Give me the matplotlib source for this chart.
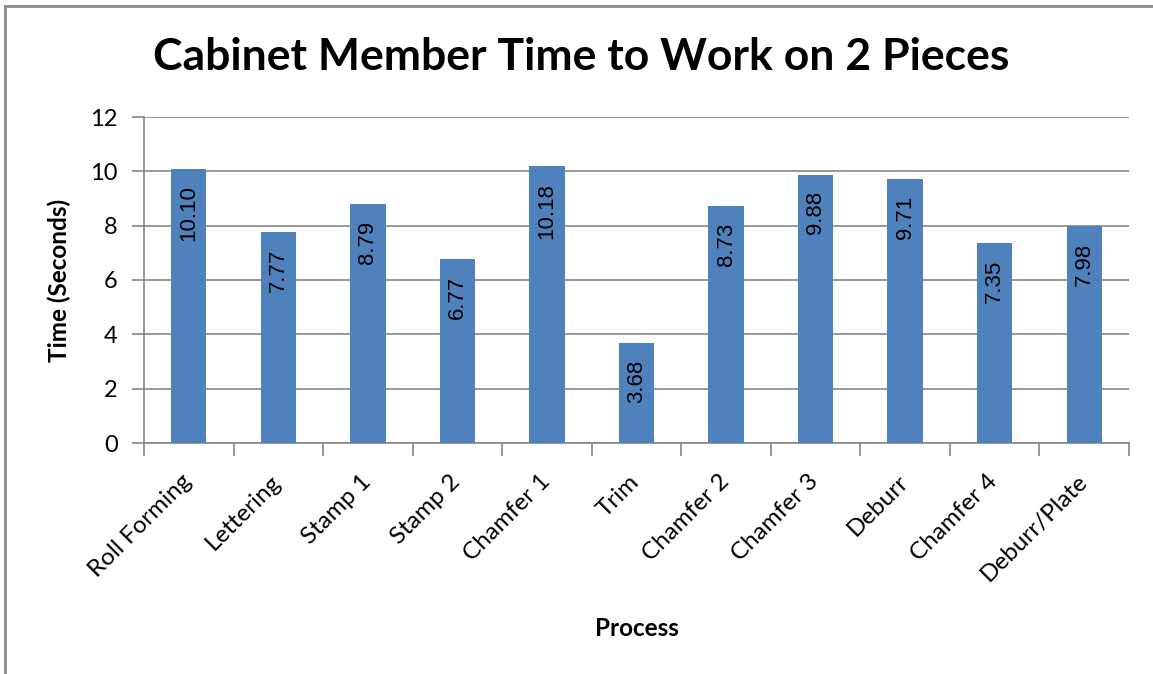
import matplotlib
matplotlib.use("Agg")
import matplotlib.pyplot as plt
from matplotlib.transforms import ScaledTranslation

categories = ["Roll Forming", "Lettering", "Stamp 1", "Stamp 2", "Chamfer 1", "Trim",
              "Chamfer 2", "Chamfer 3", "Deburr", "Chamfer 4", "Deburr/Plate"]
times = [10.10, 7.77, 8.79, 6.77, 10.18, 3.68, 8.73, 9.88, 9.71, 7.35, 7.98]
yticks = [0, 2, 4, 6, 8, 10, 12]

plt.rcParams['font.family'] = ['Lato', 'DejaVu Sans']

fig = plt.figure(figsize=(11.53, 6.74), dpi=100)
ax = fig.add_axes([144/1153, 1-443/674, (1129-144)/1153, (443-117)/674])

grid_c = '#868686'
x = list(range(len(categories)))
ax.bar(x, times, width=0.395, color='#4F81BD', zorder=3)
for xi, v in zip(x, times):
    ax.annotate(f"{v:.2f}", (xi, v), xytext=(0, -12), textcoords='offset points',
                rotation=90, ha='center', va='top', fontsize=16,
                family=['Liberation Sans', 'DejaVu Sans'], color='black', zorder=4)

ax.set_xlim(-0.5, len(categories) - 0.5)
ax.set_ylim(0, 12)
ax.set_yticks(yticks)
ax.set_yticklabels([str(t) for t in yticks], fontsize=17)
ax.yaxis.grid(True, color=grid_c, linewidth=1.2, zorder=0)
ax.set_axisbelow(True)

ax.set_xticks(x)
ax.set_xticklabels(categories, rotation=45, ha='right', rotation_mode='anchor', fontsize=17.5)
ax.tick_params(axis='x', length=0, pad=20)
shift = ScaledTranslation(-8/100, 0, fig.dpi_scale_trans)
for lbl in ax.get_xticklabels():
    lbl.set_transform(lbl.get_transform() + shift)
ax.set_xticks([i - 0.5 for i in range(len(categories) + 1)], minor=True)
ax.tick_params(axis='x', which='minor', length=9, color=grid_c, width=1.2)
ax.tick_params(axis='y', length=9, color=grid_c, width=1.2, pad=10)

for s in ['top', 'right']:
    ax.spines[s].set_visible(False)
for s in ['left', 'bottom']:
    ax.spines[s].set_color(grid_c)
    ax.spines[s].set_linewidth(1.2)

ax.set_ylabel("Time (Seconds)", fontsize=17.5, fontweight='bold', labelpad=14)
fig.text((144+1129)/2/1153, 1-629/674, "Process", fontsize=17.5, fontweight='bold',
         ha='center', va='center')
fig.text(581/1153, 1-57/674, "Cabinet Member Time to Work on 2 Pieces", fontsize=32,
         fontweight='bold', ha='center', va='center')

# figure border (top and left visible)
fig.add_artist(plt.Line2D([5/1153, 5/1153], [0, 1-6/674], transform=fig.transFigure,
                          color='#8c8c8c', linewidth=2))
fig.add_artist(plt.Line2D([5/1153, 1], [1-6/674, 1-6/674], transform=fig.transFigure,
                          color='#8c8c8c', linewidth=2))

fig.savefig("out.png", dpi=100)
